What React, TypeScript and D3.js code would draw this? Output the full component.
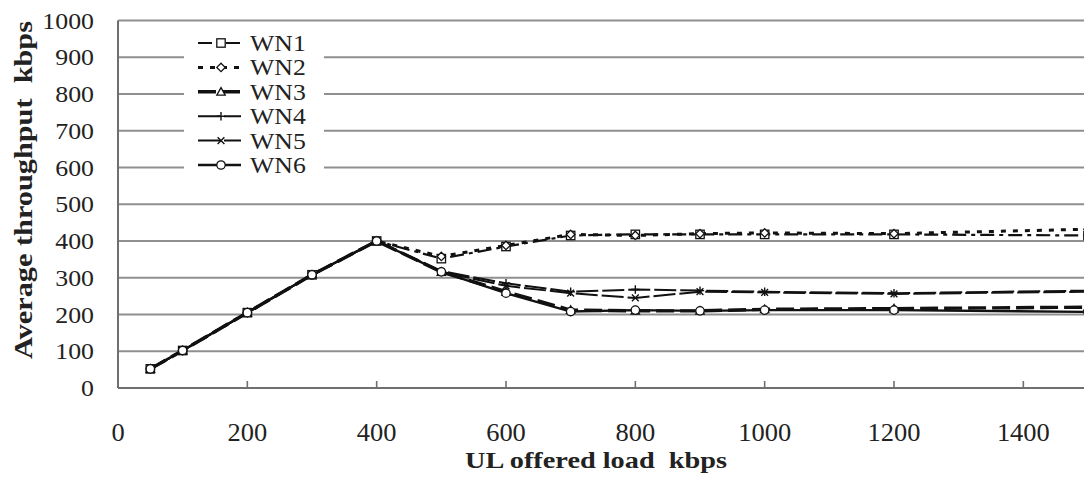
import React from "react";
import * as d3 from "d3";

// offered load (kbps) at each measured point
const loads = [50, 100, 200, 300, 400, 500, 600, 700, 800, 900, 1000, 1200, 1500];
const seriesNames = ["WN1", "WN2", "WN3", "WN4", "WN5", "WN6"];
const wn1 = [52, 102, 205, 308, 400, 352, 385, 415, 418, 418, 418, 418, 415];
const wn2 = [52, 102, 205, 308, 400, 358, 388, 418, 415, 420, 422, 420, 432];
const wn3 = [52, 102, 205, 308, 400, 316, 262, 212, 210, 210, 214, 216, 220];
const wn4 = [52, 102, 205, 308, 400, 318, 285, 262, 268, 265, 262, 258, 265];
const wn5 = [52, 102, 205, 308, 400, 316, 278, 258, 245, 262, 260, 256, 262];
const wn6 = [52, 102, 205, 308, 400, 316, 258, 208, 212, 210, 212, 212, 207];
const xTicks = [0, 200, 400, 600, 800, 1000, 1200, 1400];
const yTicks = [0, 100, 200, 300, 400, 500, 600, 700, 800, 900, 1000];

const W = 1084,
	H = 481;
const fontStyle = { fontFamily: '"Liberation Serif", "Times New Roman", serif', whiteSpace: "pre" as const };

const styles = [
	{ dash: "14,5,4,5", width: 2.2, marker: "square" },
	{ dash: "5,7", width: 3, marker: "diamond" },
	{ dash: "18,6", width: 3.4, marker: "triangle" },
	{ dash: "22,4", width: 2, marker: "plus" },
	{ dash: "22,4", width: 2, marker: "cross" },
	{ dash: null, width: 2.4, marker: "circle" },
];

const Marker = ({ type, x, y }) => {
	const s = 4.2;
	const common = { fill: "white", stroke: "#111", strokeWidth: 1.3 };
	if (type === "square") return <rect x={x - s} y={y - s} width={s * 2} height={s * 2} {...common} />;
	if (type === "diamond")
		return <path d={`M${x},${y - s}L${x + s},${y}L${x},${y + s}L${x - s},${y}Z`} {...common} />;
	if (type === "triangle")
		return <path d={`M${x},${y - s}L${x + s},${y + s * 0.8}L${x - s},${y + s * 0.8}Z`} {...common} />;
	if (type === "plus")
		return <path d={`M${x - s},${y}H${x + s}M${x},${y - s}V${y + s}`} stroke="#111" strokeWidth={1.4} />;
	if (type === "cross")
		return (
			<path
				d={`M${x - 3.4},${y - 3.4}L${x + 3.4},${y + 3.4}M${x + 3.4},${y - 3.4}L${x - 3.4},${y + 3.4}`}
				stroke="#111"
				strokeWidth={1.4}
			/>
		);
	return <circle cx={x} cy={y} r={s} {...common} />;
};

const App = () => {
	const x = d3.scaleLinear().domain([0, 1500]).range([118, 1088]);
	const y = d3.scaleLinear().domain([0, 1000]).range([388, 20.5]);
	const allSeries = [wn1, wn2, wn3, wn4, wn5, wn6];

	const line = d3
		.line<number>()
		.x((d, i) => x(loads[i]))
		.y((d) => y(d));

	return (
		<svg width={W} height={H} style={{ position: "absolute", left: 0, top: 0, background: "white" }}>
			{/* grid */}
			{yTicks
				.filter((t) => t > 0)
				.map((t) => (
					<line key={t} x1={x(0)} x2={W} y1={y(t)} y2={y(t)} stroke="#8f8f8f" strokeWidth={1.8} />
				))}
			{/* axes */}
			<line x1={x(0)} x2={x(0)} y1={y(1000)} y2={y(0)} stroke="#6f6f6f" strokeWidth={2} />
			<line x1={x(0)} x2={W} y1={y(0)} y2={y(0)} stroke="#6f6f6f" strokeWidth={2} />
			{xTicks
				.filter((t) => t > 0)
				.map((t) => (
					<line key={t} x1={x(t)} x2={x(t)} y1={y(0)} y2={y(0) - 7} stroke="#6f6f6f" strokeWidth={1.6} />
				))}
			{/* tick labels */}
			{yTicks.map((t) => (
				<text
					key={t}
					transform={`translate(94,${y(t) + 8}) scale(1.1,1)`}
					textAnchor="end"
					style={fontStyle}
					fontSize={23.5}
					fill="#222"
				>
					{t}
				</text>
			))}
			{xTicks.map((t) => (
				<text
					key={t}
					transform={`translate(${x(t)},441) scale(1.08,1)`}
					textAnchor="middle"
					style={fontStyle}
					fontSize={24.5}
					fill="#222"
				>
					{t}
				</text>
			))}
			{/* axis titles */}
			<text
				x={596}
				y={468}
				textAnchor="middle"
				style={fontStyle}
				fontWeight="bold"
				fontSize={24}
				fill="#222"
				textLength={262}
				lengthAdjust="spacingAndGlyphs"
			>
				{"UL offered load  kbps"}
			</text>
			<text
				transform="translate(32,190) rotate(-90)"
				textAnchor="middle"
				style={fontStyle}
				fontWeight="bold"
				fontSize={25}
				fill="#222"
				textLength={338}
				lengthAdjust="spacingAndGlyphs"
			>
				{"Average throughput  kbps"}
			</text>
			{/* series lines */}
			{allSeries.map((s, k) => (
				<path
					key={k}
					d={line(s) || ""}
					fill="none"
					stroke="#111"
					strokeWidth={styles[k].width}
					strokeDasharray={styles[k].dash || undefined}
				/>
			))}
			{allSeries.map((s, k) =>
				s.map((v, i) => <Marker key={k + "-" + i} type={styles[k].marker} x={x(loads[i])} y={y(v)} />)
			)}
			{/* legend */}
			<rect x={184} y={30} width={140} height={148} fill="white" />
			{seriesNames.map((name, k) => {
				const ly = 43 + k * 24.4;
				return (
					<g key={name}>
						<line
							x1={198}
							x2={241}
							y1={ly}
							y2={ly}
							stroke="#111"
							strokeWidth={styles[k].width}
							strokeDasharray={styles[k].dash || undefined}
						/>
						<Marker type={styles[k].marker} x={221} y={ly} />
						<text
							transform={`translate(250,${ly + 8}) scale(1.12,1)`}
							style={fontStyle}
							fontSize={23}
							fill="#222"
						>
							{name}
						</text>
					</g>
				);
			})}
		</svg>
	);
};

export default App;
